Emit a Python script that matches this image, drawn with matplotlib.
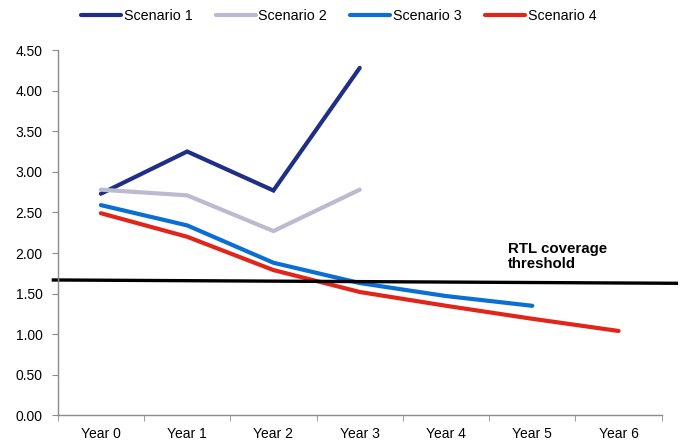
import numpy as np
import matplotlib.pyplot as plt

plt.rcParams['font.family'] = ['Liberation Sans', 'DejaVu Sans']
plt.rcParams['font.size'] = 10

years = ['Year 0', 'Year 1', 'Year 2', 'Year 3', 'Year 4', 'Year 5', 'Year 6']
scenario_1 = [2.73, 3.25, 2.77, 4.28]
scenario_2 = [2.78, 2.71, 2.27, 2.78]
scenario_3 = [2.59, 2.34, 1.88, 1.63, 1.47, 1.35]
scenario_4 = [2.49, 2.20, 1.79, 1.52, 1.35, 1.19, 1.04]
threshold_ends = [1.668, 1.627]

series = [
    ('Scenario 1', scenario_1, '#1f2f86'),
    ('Scenario 2', scenario_2, '#bcbad1'),
    ('Scenario 3', scenario_3, '#0a6fd4'),
    ('Scenario 4', scenario_4, '#e1251b'),
]

fig = plt.figure(figsize=(6.84, 4.43), dpi=100)
ax = fig.add_axes([0.0844, 0.0623, 0.883, 0.8248])

for name, vals, col in series:
    ax.plot(np.arange(len(vals)), vals, color=col, lw=3.0, label=name,
            solid_capstyle='round', solid_joinstyle='miter')

# threshold runs a little past both ends of the plot area
ax.plot([-0.57, 6.69], threshold_ends, color='black', lw=2.4, clip_on=False,
        solid_capstyle='butt')
ax.text(4.72, 1.815, 'RTL coverage\nthreshold', fontsize=10.8, fontweight='bold',
        ha='left', va='baseline', linespacing=1.1)

ax.set_xlim(-0.5, 6.5)
ax.set_ylim(0, 4.5)
ax.set_yticks(np.arange(0, 4.51, 0.5))
ax.set_yticklabels([f'{v:.2f}' for v in np.arange(0, 4.51, 0.5)])
ax.set_xticks(np.arange(len(years)))
ax.set_xticklabels(years)
ax.set_xticks(np.arange(-0.5, 6.6, 1), minor=True)

for side in ['top', 'right']:
    ax.spines[side].set_visible(False)
for side in ['left', 'bottom']:
    ax.spines[side].set_color('#8c8c8c')
    ax.spines[side].set_linewidth(1.0)

ax.tick_params(axis='y', direction='out', length=4, color='#8c8c8c', pad=7)
ax.tick_params(axis='x', which='major', length=0, pad=8)
ax.tick_params(axis='x', which='minor', direction='out', length=4, color='#8c8c8c')

fig.legend(loc='upper center', bbox_to_anchor=(0.495, 1.0), ncol=4, frameon=False,
           prop={'size': 10.3}, handlelength=2.8, handletextpad=0.2,
           columnspacing=1.6, borderaxespad=0.2)

fig.savefig('out.png', dpi=100)
